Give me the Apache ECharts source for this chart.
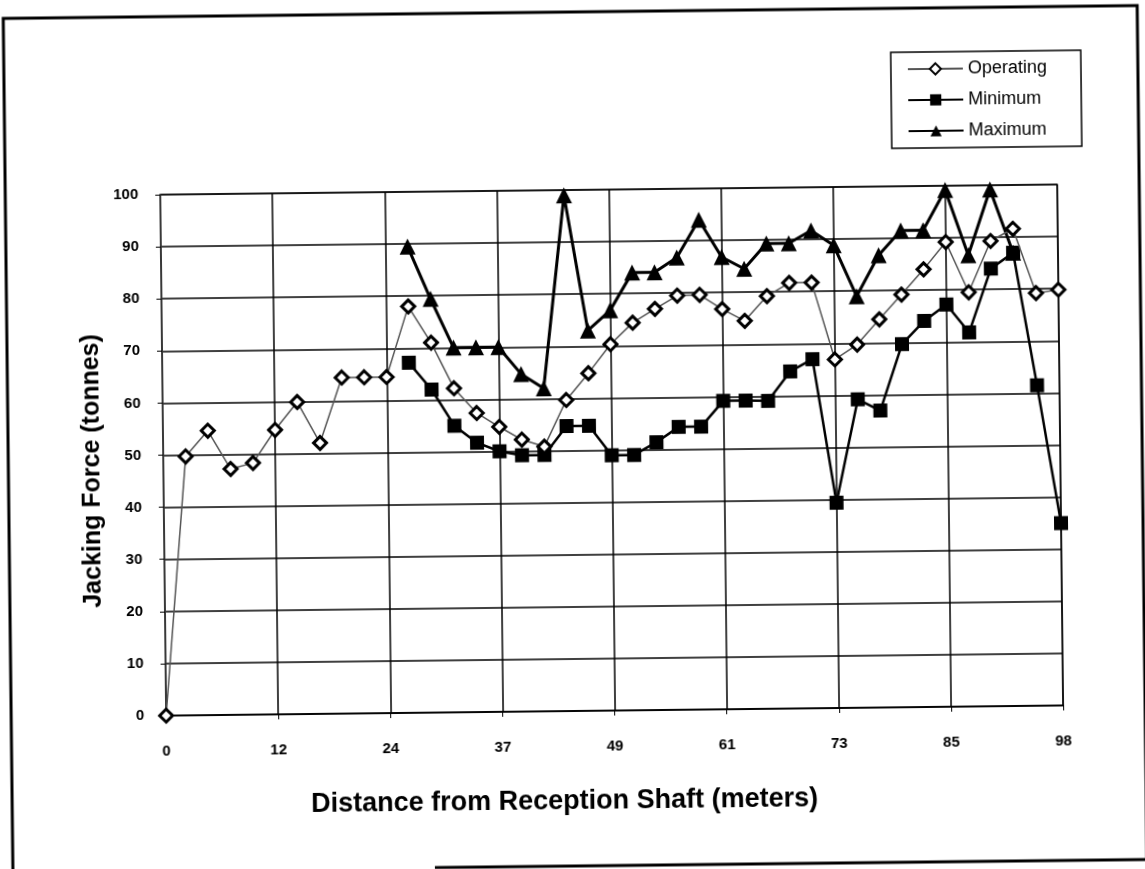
<!DOCTYPE html>
<html>
<head>
<meta charset="utf-8">
<script src="https://cdn.jsdelivr.net/npm/echarts@6/dist/echarts.min.js"></script>
<style>
  html, body { margin: 0; padding: 0; background: #fff; overflow: hidden; }
  /* the scanned original sits slightly askew */
  #chart { width: 1145px; height: 869px; transform: rotate(-0.65deg); }
</style>
</head>
<body>
<div id="chart"></div>
<script>
// distance from reception shaft, metres (one reading every 8 ft)
const distances = ['0', '2', '5', '7', '10', '12', '15', '17', '20', '22',
  '24', '27', '29', '32', '34', '37', '39', '41', '44', '46',
  '49', '51', '54', '56', '59', '61', '63', '66', '68', '71',
  '73', '76', '78', '81', '83', '85', '88', '90', '93', '95', '98']

// jacking force, tonnes
const operating = [0, 49.7, 54.6, 47.2, 48.3, 54.6, 59.9, 52, 64.5, 64.5,
  64.5, 78, 71, 62.2, 57.4, 54.7, 52.2, 50.8, 59.7, 64.8,
  70.3, 74.4, 77, 79.5, 79.6, 76.8, 74.5, 79.2, 81.7, 81.7,
  66.9, 69.7, 74.5, 79.2, 84, 89.2, 79.5, 89.3, 91.6, 79.2, 79.8]

const minimum = [null, null, null, null, null, null, null, null, null, null,
  null, 67.2, 62, 55, 51.7, 50, 49.2, 49.2, 54.7, 54.7,
  49, 49, 51.4, 54.3, 54.3, 59.2, 59.2, 59.1, 64.7, 67,
  39.4, 59.2, 57, 69.7, 74.1, 77.2, 71.8, 84, 87, 61.5, 35]

const maximum = [null, null, null, null, null, null, null, null, null, null,
  null, 89.5, 79.4, 70, 70, 70, 64.8, 62, 99, 73,
  76.8, 84, 84, 86.8, 94, 86.8, 84.5, 89.3, 89.3, 91.7,
  88.8, 79, 86.8, 91.5, 91.5, 99.2, 86.6, 99.2, 87, null, null]

const chart = echarts.init(document.getElementById('chart'), null, { renderer: 'canvas' })

const tickFont = {
  color: '#000',
  fontWeight: 'bold',
  fontSize: 15,
  fontFamily: 'Liberation Sans Narrow, Liberation Sans, Arial, sans-serif'
}

const option = {
  backgroundColor: 'transparent',
  animation: false,
  grid: {
    left: 163,
    right: 85,
    top: 190,
    bottom: 158,
    show: true,
    borderColor: '#333',
    borderWidth: 1.5
  },
  legend: {
    orient: 'vertical',
    left: 895,
    top: 56,
    padding: [8, 34, 8, 16],
    itemGap: 13,
    itemWidth: 55,
    itemHeight: 14,
    borderColor: '#000',
    borderWidth: 1.5,
    textStyle: {
      color: '#000',
      fontSize: 18,
      fontFamily: 'Liberation Sans, Arial, sans-serif'
    },
    data: ['Operating', 'Minimum', 'Maximum']
  },
  xAxis: {
    type: 'category',
    data: distances,
    boundaryGap: false,
    name: 'Distance from Reception Shaft (meters)',
    nameLocation: 'middle',
    nameGap: 77,
    nameTextStyle: {
      color: '#000',
      fontWeight: 'bold',
      fontSize: 27,
      padding: [0, 102, 0, 0],
      fontFamily: 'Liberation Sans, Arial, sans-serif'
    },
    axisLine: { lineStyle: { color: '#000', width: 1.5 } },
    axisTick: { interval: 4, length: 5, lineStyle: { color: '#000' } },
    axisLabel: { interval: 4, margin: 28, ...tickFont },
    splitLine: { show: true, interval: 4, lineStyle: { color: '#000', width: 1.5 } }
  },
  yAxis: {
    type: 'value',
    min: 0,
    max: 100,
    interval: 10,
    name: 'Jacking Force (tonnes)',
    nameLocation: 'middle',
    nameGap: 40,
    nameTextStyle: {
      color: '#000',
      fontWeight: 'bold',
      fontSize: 25,
      padding: [0, 30, 0, 0],
      fontFamily: 'Liberation Sans, Arial, sans-serif'
    },
    axisLine: { show: true, lineStyle: { color: '#444', width: 1.5 } },
    axisTick: { show: true, length: 5, lineStyle: { color: '#000' } },
    axisLabel: { margin: 22, ...tickFont },
    splitLine: { lineStyle: { color: '#000', width: 1.5 } }
  },
  series: [
    {
      name: 'Operating',
      type: 'line',
      data: operating,
      symbol: 'diamond',
      symbolSize: 13,
      showAllSymbol: true,
      z: 4,
      lineStyle: { color: '#555', width: 1.5 },
      itemStyle: { color: '#fff', borderColor: '#000', borderWidth: 3 }
    },
    {
      name: 'Minimum',
      type: 'line',
      data: minimum,
      symbol: 'rect',
      symbolSize: 14,
      showAllSymbol: true,
      z: 3,
      lineStyle: { color: '#000', width: 2.5 },
      itemStyle: { color: '#000' }
    },
    {
      name: 'Maximum',
      type: 'line',
      data: maximum,
      symbol: 'triangle',
      symbolSize: 16,
      showAllSymbol: true,
      z: 3,
      lineStyle: { color: '#000', width: 3 },
      itemStyle: { color: '#000' }
    }
  ],
  graphic: [
    {
      type: 'polyline',
      silent: true,
      shape: { points: [[8, 866], [8, 12], [1142, 12], [1142, 866], [430, 866]] },
      style: { stroke: '#000', lineWidth: 3, fill: null }
    }
  ]
}

chart.setOption(option)
</script>
</body>
</html>
